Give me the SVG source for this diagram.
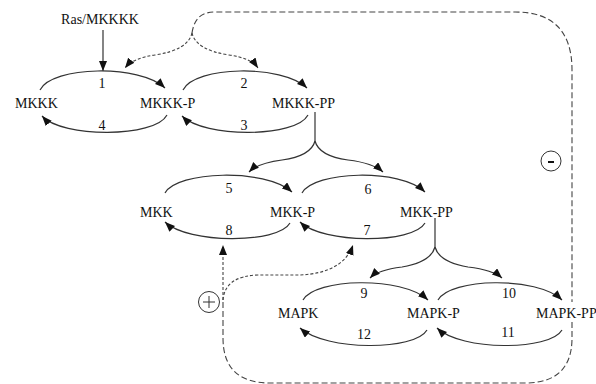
<svg xmlns="http://www.w3.org/2000/svg" width="596" height="384" viewBox="0 0 596 384">
<style>
text{font-family:"Liberation Serif","Times New Roman",serif;font-size:14px;fill:#111}
.num{text-anchor:middle}
.arc{fill:none;stroke:#333;stroke-width:1.2;marker-end:url(#ah)}
.sol{fill:none;stroke:#333;stroke-width:1.2}
.dash{fill:none;stroke:#444;stroke-width:1.1;stroke-dasharray:6 3}
.dot{fill:none;stroke:#444;stroke-width:1.1;stroke-dasharray:3 2}
.sign{fill:#fff;stroke:#333;stroke-width:1}
</style>
<defs>
<marker id="ah" markerUnits="userSpaceOnUse" markerWidth="11" markerHeight="9" refX="10" refY="4" orient="auto">
<path d="M0,0 L10,4 L0,8 z" fill="#111"/>
</marker>
</defs>
<rect width="596" height="384" fill="#fff"/>
<g id="connectors">
<!-- Ras input -->
<path class="sol" d="M103,30 L103,71" marker-end="url(#ah)"/>
<!-- level 1 cycles -->
<path class="arc" d="M40,90 C52,66 140,64 165,88"/>
<path class="arc" d="M167,115 C155,138 62,138 42,116"/>
<path class="arc" d="M183,90 C195,66 282,64 307,88"/>
<path class="arc" d="M308,115 C296,138 204,138 182,116"/>
<!-- fork MKKK-PP -->
<path class="sol" d="M315,112 L315,141"/>
<path class="arc" d="M315,141 Q311,156 282,160 Q258,163 249,172"/>
<path class="arc" d="M315,141 Q319,156 348,160 Q373,163 383,172"/>
<!-- level 2 cycles -->
<path class="arc" d="M165,193 C177,171 265,168 292,192"/>
<path class="arc" d="M290,223 C278,244 188,244 165,222"/>
<path class="arc" d="M302,193 C314,171 400,168 425,192"/>
<path class="arc" d="M425,223 C413,244 323,244 300,222"/>
<!-- fork MKK-PP -->
<path class="sol" d="M435,218 L435,247"/>
<path class="arc" d="M435,247 Q431,262 402,267 Q378,270 370,278"/>
<path class="arc" d="M435,247 Q439,262 468,267 Q493,270 502,278"/>
<!-- level 3 cycles -->
<path class="arc" d="M303,300 C315,278 402,276 428,300"/>
<path class="arc" d="M427,330 C415,351 326,351 300,328"/>
<path class="arc" d="M438,300 C450,278 537,276 562,300"/>
<path class="arc" d="M562,330 C550,351 461,351 437,328"/>
<!-- negative feedback loop -->
<path class="dash" d="M192,33 C194,20 200,12 215,12 L515,12 Q572,12 572,70 L572,302"/>
<path class="dot" d="M192,33 Q188,50 155,55 Q133,58 125,68" marker-end="url(#ah)"/>
<path class="dot" d="M192,33 Q196,50 229,55 Q251,58 258,68" marker-end="url(#ah)"/>
<!-- positive feedback loop -->
<path class="dash" d="M572,322 L572,338 Q572,383 525,383 L270,383 Q223,383 223,338 L223,300"/>
<path class="dot" d="M223,300 L223,245" marker-end="url(#ah)"/>
<path class="dot" d="M223,300 Q225,276 258,275 L300,275 Q343,273 353,245" marker-end="url(#ah)"/>
</g>
<g id="ras"><text x="100" y="24" text-anchor="middle">Ras/MKKKK</text></g>
<g id="mkkk"><text x="15" y="108">MKKK</text></g>
<g id="mkkk-p"><text x="140" y="108">MKKK-P</text></g>
<g id="mkkk-pp"><text x="272" y="108">MKKK-PP</text></g>
<g id="mkk"><text x="140" y="217">MKK</text></g>
<g id="mkk-p"><text x="270" y="217">MKK-P</text></g>
<g id="mkk-pp"><text x="400" y="217">MKK-PP</text></g>
<g id="mapk"><text x="278" y="318">MAPK</text></g>
<g id="mapk-p"><text x="407" y="318">MAPK-P</text></g>
<g id="mapk-pp"><text x="536" y="318">MAPK-PP</text></g>
<g id="labels">
<text class="num" x="102" y="88">1</text>
<text class="num" x="244" y="88">2</text>
<text class="num" x="244" y="130">3</text>
<text class="num" x="102" y="130">4</text>
<text class="num" x="229" y="193">5</text>
<text class="num" x="368" y="194">6</text>
<text class="num" x="367" y="235">7</text>
<text class="num" x="229" y="235">8</text>
<text class="num" x="364" y="298">9</text>
<text class="num" x="509" y="298">10</text>
<text class="num" x="508" y="337">11</text>
<text class="num" x="364" y="339">12</text>
</g>
<g id="minus">
<circle class="sign" cx="551" cy="161" r="10"/>
<path d="M548,162 L554,162" stroke="#111" stroke-width="2"/>
</g>
<g id="plus">
<circle class="sign" cx="209" cy="302" r="10.5"/>
<path d="M203,302 L215,302 M209,296 L209,308" stroke="#333" stroke-width="1"/>
</g>
</svg>
